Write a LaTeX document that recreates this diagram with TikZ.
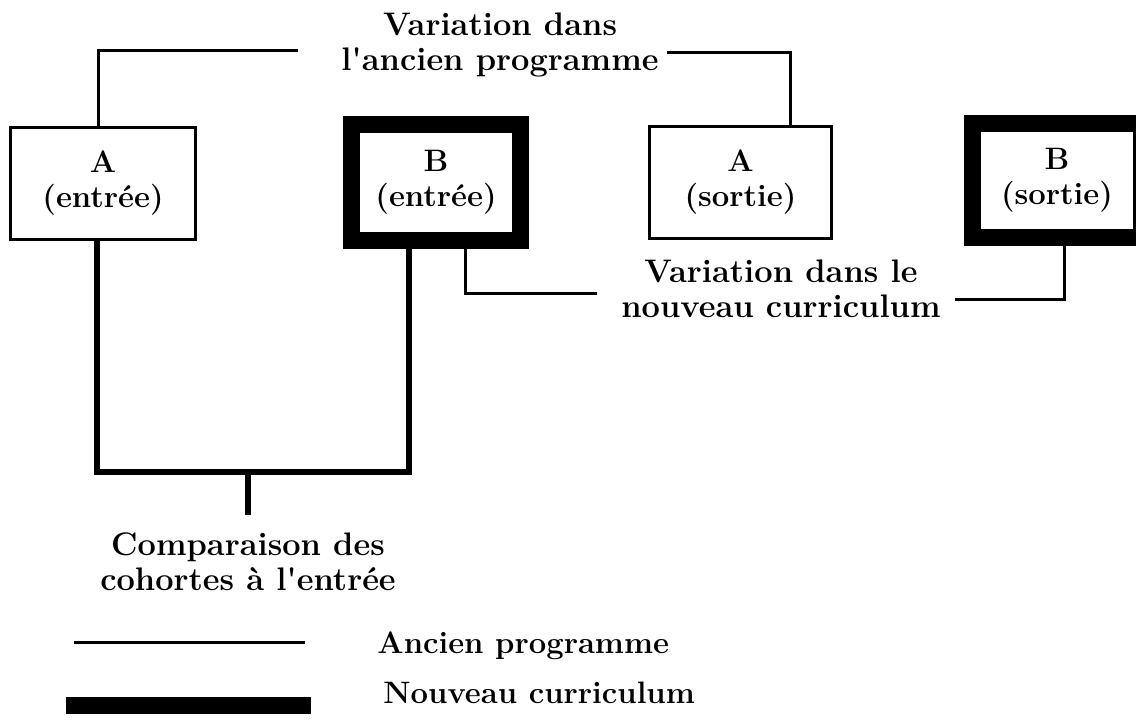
\documentclass[tikz,border=0pt]{standalone}
\usetikzlibrary{calc}
\begin{document}
\begin{tikzpicture}[x=0.5pt,y=-0.5pt,
  thin line/.style={line width=1.5pt},
  thick line/.style={line width=3pt},
  boxfont/.style={font=\fontsize{15.5pt}{17.5pt}\selectfont\bfseries},
  oldbox/.style={draw,line width=1.5pt,inner sep=0pt,align=center,fill=white,boxfont},
  newbox/.style={draw,line width=8.5pt,inner sep=0pt,align=center,fill=white,boxfont},
  lbl/.style={inner sep=0pt,align=center,font=\fontsize{16.3pt}{17.5pt}\selectfont\bfseries},
  legtext/.style={inner sep=0pt,anchor=base west,font=\fontsize{15.5pt}{17.5pt}\selectfont\bfseries}]
\useasboundingbox (0,0) rectangle (1136,724);
\clip (0,0) rectangle (1136,724);
% boxes
\node[oldbox,minimum width=92.5pt,minimum height=56pt] (A1) at (103,183.5) {A\\(entrée)};
\node[newbox,minimum width=84.5pt,minimum height=58pt] (B1) at (436,182.5) {B\\(entrée)};
\node[oldbox,minimum width=91pt,minimum height=56pt] (A2) at (740.5,182.5) {A\\(sortie)};
\node[newbox,minimum width=84.5pt,minimum height=57pt] (B2) at (1057,180.5) {B\\(sortie)};
% labels
\node[lbl] (T1) at (500,45) {Variation dans\\l\textquotesingle ancien programme};
\node[lbl] (T2) at (781,289) {Variation dans le\\nouveau curriculum};
\node[lbl] (T3) at (248,562) {Comparaison des\\cohortes à l\textquotesingle entrée};
% old programme connectors
\coordinate (c1) at (298,50);
\coordinate (k1) at (98,50);
\draw[thin line] (c1) -- (k1) -- (k1 |- A1.north);
\coordinate (c2) at (667,52);
\coordinate (k2) at (790,52);
\draw[thin line] (c2) -- (k2) -- (k2 |- A2.north);
% new curriculum connectors
\coordinate (k7) at (465,293);
\coordinate (c3) at (597,293);
\draw[thin line] (k7 |- B1.south) -- (k7) -- (c3);
\coordinate (k8) at (1064,299);
\coordinate (c4) at (955,299);
\draw[thin line] (k8 |- B2.south) -- (k8) -- (c4);
% comparison
\coordinate (k3) at (97,472);
\coordinate (k4) at (409,472);
\draw[thick line] (k3 |- A1.south) -- (k3) -- (k4) -- (k4 |- B1.south);
\coordinate (k5) at (248,472);
\coordinate (k6) at (248,515);
\draw[thick line] (k5) -- (k6);
% legend
\coordinate (la) at (74,642);
\coordinate (lb) at (305,642);
\draw[thin line] (la) -- (lb);
\coordinate (lc) at (66,705);
\coordinate (ld) at (311,705);
\draw[line width=8.5pt] (lc) -- (ld);
\node[legtext] (L1) at (377,653) {Ancien programme};
\node[legtext] (L2) at (383,703) {Nouveau curriculum};
\end{tikzpicture}
\end{document}
